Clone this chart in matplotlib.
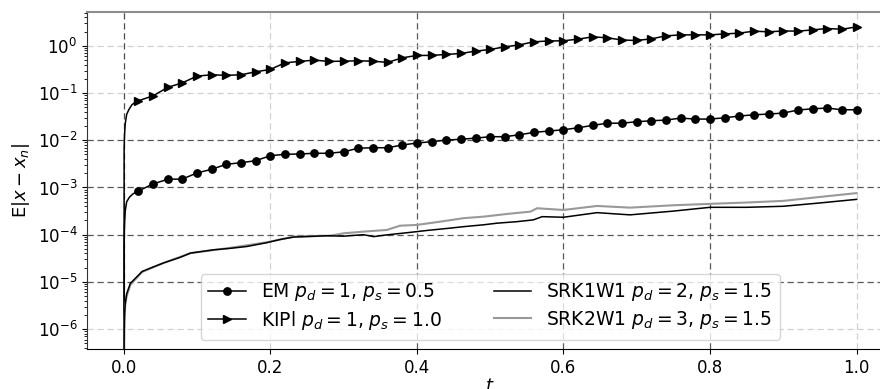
import numpy as np
import matplotlib
matplotlib.use('Agg')
import matplotlib.pyplot as plt

# marker times (every 0.02)
t_mark = [0.02, 0.04, 0.06, 0.08, 0.10, 0.12, 0.14, 0.16, 0.18, 0.20,
          0.22, 0.24, 0.26, 0.28, 0.30, 0.32, 0.34, 0.36, 0.38, 0.40,
          0.42, 0.44, 0.46, 0.48, 0.50, 0.52, 0.54, 0.56, 0.58, 0.60,
          0.62, 0.64, 0.66, 0.68, 0.70, 0.72, 0.74, 0.76, 0.78, 0.80,
          0.82, 0.84, 0.86, 0.88, 0.90, 0.92, 0.94, 0.96, 0.98, 1.00]

# EM p_d=1, p_s=0.5
em_t0 = [0.0, 0.0005, 0.001, 0.002, 0.004, 0.008, 0.013]
em_y0 = [0.0, 6.3e-5, 1.58e-4, 3.16e-4, 5.0e-4, 6.3e-4, 7.4e-4]
em_y = [8.43e-4, 1.19e-3, 1.49e-3, 1.51e-3, 2.03e-3, 2.43e-3, 3.10e-3, 3.35e-3, 3.69e-3, 4.71e-3,
        5.05e-3, 5.12e-3, 5.30e-3, 5.30e-3, 5.69e-3, 6.79e-3, 6.95e-3, 6.95e-3, 7.93e-3, 8.75e-3,
        9.31e-3, 1.01e-2, 1.05e-2, 1.11e-2, 1.19e-2, 1.19e-2, 1.31e-2, 1.47e-2, 1.57e-2, 1.67e-2,
        1.84e-2, 2.07e-2, 2.30e-2, 2.30e-2, 2.47e-2, 2.59e-2, 2.68e-2, 2.95e-2, 2.81e-2, 2.81e-2,
        3.00e-2, 3.26e-2, 3.47e-2, 3.59e-2, 3.77e-2, 4.37e-2, 4.65e-2, 4.81e-2, 4.43e-2, 4.43e-2]

# KIPl p_d=1, p_s=1.0
kp_t0 = [0.0, 0.0005, 0.001, 0.002, 0.004, 0.007, 0.011, 0.015]
kp_y0 = [0.0, 0.0063, 0.0126, 0.0224, 0.0355, 0.0447, 0.0562, 0.063]
kp_y = [0.0687, 0.0875, 0.132, 0.165, 0.229, 0.244, 0.237, 0.244, 0.282, 0.317,
        0.437, 0.468, 0.499, 0.468, 0.474, 0.482, 0.474, 0.446, 0.557, 0.627,
        0.627, 0.658, 0.690, 0.773, 0.839, 0.953, 1.05, 1.22, 1.27, 1.28,
        1.39, 1.55, 1.48, 1.33, 1.30, 1.41, 1.63, 1.71, 1.71, 1.71,
        1.79, 1.86, 2.05, 1.98, 2.07, 2.05, 2.18, 2.33, 2.25, 2.52]

# SRK1W1 p_d=2, p_s=1.5
s1_t = [0.0, 0.0005, 0.001, 0.002, 0.004, 0.009, 0.025, 0.036, 0.054, 0.077,
        0.091, 0.123, 0.145, 0.168, 0.195, 0.214, 0.232, 0.277, 0.30, 0.327,
        0.341, 0.359, 0.391, 0.414, 0.446, 0.464, 0.491, 0.509, 0.537, 0.559,
        0.571, 0.60, 0.623, 0.646, 0.678, 0.691, 0.75, 0.80, 0.85, 0.90,
        0.95, 1.0]
s1_y = [0.0, 6.3e-7, 2.0e-6, 3.5e-6, 5.6e-6, 9.3e-6, 1.66e-5, 1.95e-5, 2.51e-5, 3.31e-5,
        4.07e-5, 4.79e-5, 5.13e-5, 5.62e-5, 6.76e-5, 7.94e-5, 8.9e-5, 9.5e-5, 9.3e-5, 1.0e-4,
        9.1e-5, 9.9e-5, 1.12e-4, 1.23e-4, 1.38e-4, 1.48e-4, 1.62e-4, 1.75e-4, 1.89e-4, 2.06e-4,
        2.41e-4, 2.34e-4, 2.62e-4, 2.93e-4, 2.71e-4, 2.63e-4, 3.16e-4, 3.8e-4, 3.8e-4, 4.0e-4,
        4.7e-4, 5.6e-4]

# SRK2W1 p_d=3, p_s=1.5
s2_t = [0.0, 0.0005, 0.001, 0.002, 0.004, 0.009, 0.025, 0.054, 0.091, 0.145,
        0.195, 0.232, 0.282, 0.30, 0.327, 0.359, 0.377, 0.40, 0.432, 0.464,
        0.491, 0.523, 0.555, 0.564, 0.60, 0.646, 0.691, 0.75, 0.80, 0.85,
        0.90, 0.95, 1.0]
s2_y = [0.0, 4.0e-7, 1.6e-6, 3.2e-6, 5.0e-6, 8.7e-6, 1.62e-5, 2.51e-5, 4.07e-5, 5.25e-5,
        6.9e-5, 9.1e-5, 9.5e-5, 1.07e-4, 1.16e-4, 1.26e-4, 1.55e-4, 1.61e-4, 1.89e-4, 2.24e-4,
        2.41e-4, 2.75e-4, 3.08e-4, 3.63e-4, 3.34e-4, 4.06e-4, 3.74e-4, 4.2e-4, 4.5e-4, 4.8e-4,
        5.2e-4, 6.3e-4, 7.6e-4]

xticks = [0.0, 0.2, 0.4, 0.6, 0.8, 1.0]
yticks = [1e-6, 1e-5, 1e-4, 1e-3, 1e-2, 1e-1, 1e0]

fig = plt.figure(figsize=(8.8, 3.89), dpi=100)
ax = fig.add_axes([0.099, 0.103, 0.916, 0.866])

em_idx = list(range(len(em_t0), len(em_t0) + len(t_mark)))
kp_idx = list(range(len(kp_t0), len(kp_t0) + len(t_mark)))

ax.plot(em_t0 + t_mark, em_y0 + em_y, color='black', lw=1.1, marker='o', ms=5.3,
        markevery=em_idx, label=r'EM $p_d = 1$, $p_s = 0.5$')
ax.plot(kp_t0 + t_mark, kp_y0 + kp_y, color='black', lw=1.1, marker='>', ms=5.3,
        markevery=kp_idx, label=r'KIPl $p_d = 1$, $p_s = 1.0$')
ax.plot(s2_t, s2_y, color='0.6', lw=1.5, zorder=2, label=r'SRK2W1 $p_d = 3$, $p_s = 1.5$')
ax.plot(s1_t, s1_y, color='black', lw=1.1, zorder=3, label=r'SRK1W1 $p_d = 2$, $p_s = 1.5$')

ax.set_yscale('log')
ax.set_xlim(-0.05, 1.05)
ax.set_ylim(3.8e-7, 5.2)
ax.set_xticks(xticks)
ax.set_yticks(yticks)
ax.tick_params(labelsize=12)

ax.grid(True, which='major', linestyle=(0, (5, 3)), lw=0.9)
xcols = ['0.3', '0.82', '0.35', '0.35', '0.35', '0.82']
ycols = ['0.82', '0.35', '0.35', '0.35', '0.35', '0.82', '0.82']
for g, c in zip(ax.get_xgridlines(), xcols):
    g.set_color(c)
for g, c in zip(ax.get_ygridlines(), ycols):
    g.set_color(c)

ax.spines['top'].set_color('0.55')
ax.spines['top'].set_linewidth(1.5)
ax.spines['left'].set_color('0.2')

ax.set_xlabel('$t$', fontsize=13, labelpad=0)
ax.set_ylabel(r'E$|x - x_n|$', fontsize=13)

h, l = ax.get_legend_handles_labels()
order = [0, 1, 3, 2]
ax.legend([h[i] for i in order], [l[i] for i in order], loc='lower center', ncol=2,
          fontsize=13.5, labelspacing=0.3, columnspacing=2.8)

fig.savefig('out.png', dpi=100)
